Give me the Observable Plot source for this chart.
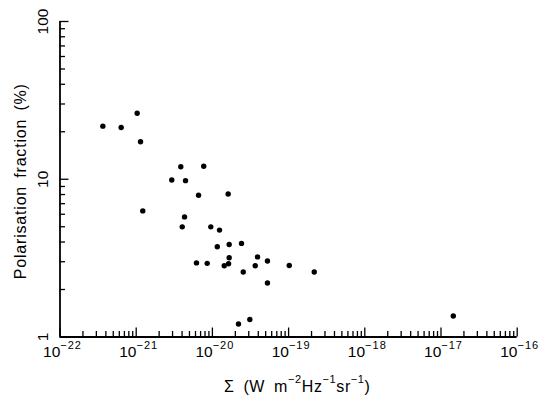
<!DOCTYPE html>
<html><head><meta charset="utf-8">
<script src="https://cdn.jsdelivr.net/npm/d3@7"></script>
<script src="https://cdn.jsdelivr.net/npm/@observablehq/plot@0.6"></script>
<style>
body{margin:0;background:#fff;}
#chart svg{display:block;}
</style>
</head><body><div id="chart"></div>
<script>
// Data (Σ in W m^-2 Hz^-1 sr^-1, polarisation fraction in %)
const sigma = [
  3.65e-22, 6.35e-22, 1.03e-21, 1.14e-21, 3.85e-21, 7.7e-21, 2.93e-21, 4.44e-21,
  6.58e-21, 1.61e-20, 1.22e-21, 4.31e-21, 4.02e-21, 9.53e-21, 1.24e-20, 1.16e-20,
  1.66e-20, 2.41e-20, 1.66e-20, 3.91e-20, 6.18e-21, 8.55e-21, 1.43e-20, 1.63e-20,
  3.65e-20, 5.28e-20, 1.02e-19, 2.17e-19, 2.54e-20, 5.28e-20, 2.20e-20, 3.10e-20,
  1.45e-17
];
const polFrac = [
  21.7, 21.3, 26.2, 17.3, 12.0, 12.1, 9.9, 9.8,
  7.92, 8.07, 6.30, 5.77, 4.99, 4.99, 4.76, 3.73,
  3.86, 3.92, 3.18, 3.22, 2.95, 2.93, 2.83, 2.91,
  2.83, 3.03, 2.84, 2.58, 2.58, 2.20, 1.21, 1.29,
  1.36
];
const xDecadeExponents = [-22, -21, -20, -19, -18, -17, -16];
const yMajorTicks = [1, 10, 100];
const yTickLabels = ["1", "10", "100"];
const minorMultipliers = [2, 3, 4, 5, 6, 7, 8, 9];
const xTitle = "Σ (W m^{−2}Hz^{−1}sr^{−1})";
const yTitle = "Polarisation fraction (%)";

const W = 550, H = 403, mL = 59.5, mR = 33.3, mT = 21, mB = 66.5;
const frameW = W - mL - mR, frameH = H - mT - mB;
const font = "'Liberation Sans', Arial, Helvetica, sans-serif";

const points = sigma.map((s, i) => ({s, p: polFrac[i]}));
const xMajor = xDecadeExponents.map(e => Math.pow(10, e));
const xMinor = xDecadeExponents.slice(0, -1).flatMap(e => minorMultipliers.map(m => m * Math.pow(10, e)));
const yMinor = yMajorTicks.slice(0, -1).flatMap(b => minorMultipliers.map(m => m * b));

const chart = Plot.plot({
  width: W, height: H,
  marginLeft: mL, marginRight: mR, marginTop: mT, marginBottom: mB,
  style: {fontFamily: font, fontSize: "15px", color: "#000", background: "#fff", overflow: "visible"},
  x: {type: "log", domain: [1e-22, 1e-16], axis: null},
  y: {type: "log", domain: [1, 100], axis: null},
  marks: [
    Plot.ruleX(xMajor, {x: d => d, insetTop: frameH - 9, stroke: "#000", strokeWidth: 1.3}),
    Plot.ruleX(xMinor, {x: d => d, insetTop: frameH - 5.5, stroke: "#000", strokeWidth: 1.3}),
    Plot.ruleY(yMajorTicks, {y: d => d, insetRight: frameW - 9, stroke: "#000", strokeWidth: 1.3}),
    Plot.ruleY(yMinor, {y: d => d, insetRight: frameW - 5.5, stroke: "#000", strokeWidth: 1.3}),
    Plot.ruleX([1e-22], {stroke: "#000", strokeWidth: 1.8}),
    Plot.ruleY([1], {stroke: "#000", strokeWidth: 1.8}),
    Plot.dot(points, {x: "s", y: "p", r: 2.7, fill: "#000", stroke: "none"}),
    Plot.text(xDecadeExponents, {
      x: e => Math.pow(10, e), frameAnchor: "bottom",
      text: e => "10^{" + (e < 0 ? "−" : "") + Math.abs(e) + "}",
      textAnchor: "middle", lineAnchor: "bottom", dx: 2.5, dy: 20.2, fontSize: 15.5, fill: "#000"
    }),
    Plot.text(yMajorTicks, {
      y: d => d, frameAnchor: "left",
      text: (d, i) => yTickLabels[i],
      rotate: -90, textAnchor: "middle", lineAnchor: "bottom", dx: -12.5, fontSize: 15.5, fill: "#000"
    }),
    Plot.text([xTitle], {
      frameAnchor: "bottom", text: d => d,
      textAnchor: "middle", lineAnchor: "bottom", dx: 8.6, dy: 55.2, fontSize: 16, fill: "#000"
    }),
    Plot.text([yTitle], {
      frameAnchor: "left", text: d => d, rotate: -90,
      textAnchor: "middle", lineAnchor: "bottom", dx: -34.5, dy: 2, fontSize: 16, fill: "#000"
    })
  ]
});

document.getElementById("chart").appendChild(chart);

// Turn ^{...} markup into real superscript tspans
const NS = "http://www.w3.org/2000/svg";
const svg = chart.tagName.toLowerCase() === "svg" ? chart : chart.querySelector("svg");
svg.querySelectorAll("text").forEach(t => {
  const s = t.textContent;
  if (s === yTitle) { t.style.letterSpacing = "0.8px"; t.style.wordSpacing = "3px"; }
  if (!s.includes("^{")) return;
  const isTitle = s === xTitle;
  if (isTitle) { t.style.letterSpacing = "0.6px"; t.style.wordSpacing = "4px"; }
  const shift = isTitle ? 9 : 8.4;
  const supSize = 11;
  const re = /\^\{([^}]*)\}/g;
  const parts = [];
  let last = 0, m;
  while ((m = re.exec(s)) !== null) {
    if (m.index > last) parts.push({t: s.slice(last, m.index), sup: false});
    parts.push({t: m[1], sup: true});
    last = m.index + m[0].length;
  }
  if (last < s.length) parts.push({t: s.slice(last), sup: false});
  while (t.firstChild) t.removeChild(t.firstChild);
  let raised = false;
  for (const p of parts) {
    const ts = document.createElementNS(NS, "tspan");
    ts.textContent = p.t;
    if (p.sup) {
      ts.setAttribute("font-size", supSize);
      if (!isTitle) ts.setAttribute("letter-spacing", "1");
      if (!raised) { ts.setAttribute("dy", -shift); raised = true; }
    } else if (raised) {
      ts.setAttribute("dy", shift); raised = false;
    }
    t.appendChild(ts);
  }
});
</script>
</body></html>
